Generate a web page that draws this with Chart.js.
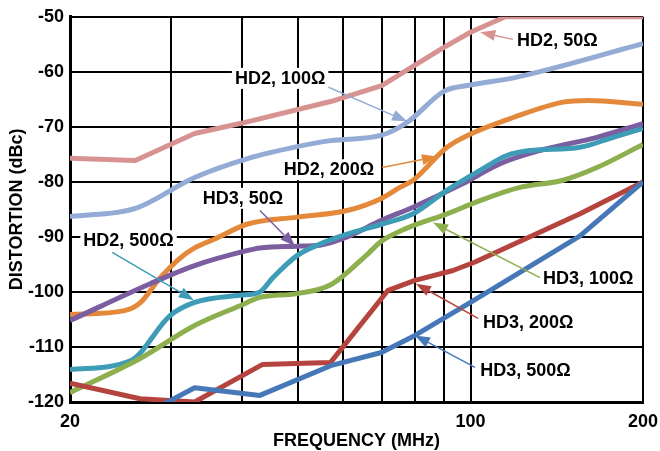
<!DOCTYPE html>
<html>
<head>
<meta charset="utf-8">
<script src="https://cdn.jsdelivr.net/npm/chart.js@4.4.1/dist/chart.umd.min.js"></script>
<style>
    html, body { margin: 0; padding: 0; background: #fff; }
    #wrap { width: 660px; height: 451px; }
</style>
</head>
<body>
<div id="wrap"><canvas id="myChart"></canvas></div>
<script>
// tick values / labels
const freqTicks = [20, 30, 40, 50, 60, 70, 80, 90, 100, 200];
const freqLabels = ['20', '', '', '', '', '', '', '', '100', '200'];
const dbcMin = -120;
const dbcMax = -50;

// HD2, 50 ohm
const hd2_50_freq = [20, 26, 33, 39.6, 57, 70, 80, 90, 100, 115, 200];
const hd2_50_dbc  = [-75.7, -76.1, -71.2, -69.4, -65.4, -62.5, -58.8, -55.5, -52.8, -50, -50];
// HD2, 100 ohm
const hd2_100_freq = [20, 26, 33, 40.7, 49.8, 57, 70, 77.5, 90, 100, 120, 200];
const hd2_100_dbc  = [-86.3, -84.8, -79.2, -75.8, -73.6, -72.5, -71.5, -69.2, -63.5, -62.4, -61, -54.9];
// HD2, 200 ohm
const hd2_200_freq = [20, 24.9, 26.5, 28.7, 31.1, 33, 36.1, 40.7, 49.8, 60.9, 69.9, 75.3, 79.4, 91, 100, 118.7, 145, 160, 200];
const hd2_200_dbc  = [-104.1, -103.4, -102, -97.5, -93.9, -92, -90.2, -87.7, -86.4, -85.2, -83, -81, -79.7, -73.7, -71.3, -68.3, -65.5, -65.2, -65.9];
// HD2, 500 ohm
const hd2_500_freq = [20, 25.5, 29.9, 33, 39.6, 42.9, 45.2, 49.8, 54.6, 60.9, 69.9, 79.4, 91, 103.9, 115.7, 127, 155.3, 177.4, 200];
const hd2_500_dbc  = [-114.1, -112.5, -104.3, -101.9, -100.6, -100, -97.4, -93.4, -91.3, -89.5, -87.7, -85.8, -81.5, -77.9, -75.2, -74.3, -73.7, -71.9, -70.3];
// HD3, 50 ohm
const hd3_50_freq = [20, 27.6, 33, 40.7, 42.9, 49.8, 54.6, 60.9, 69.9, 79.4, 97, 112.6, 132.2, 166.2, 200];
const hd3_50_dbc  = [-105.2, -98.5, -95.2, -92.5, -92, -91.7, -91.5, -90, -87, -84.6, -80.3, -76.7, -74.3, -71.9, -69.4];
// HD3, 100 ohm
const hd3_100_freq = [20, 26.5, 33, 39.6, 42.9, 49.8, 57, 66, 69.9, 77.5, 91, 103.9, 122, 145, 166.2, 200];
const hd3_100_dbc  = [-118.3, -112.1, -106.1, -102.5, -101, -100.3, -98.7, -93.2, -90.8, -88.4, -85.8, -83.4, -81, -79.7, -77.4, -73.2];
// HD3, 200 ohm
const hd3_200_freq = [20, 26.5, 33, 43.3, 57, 71.8, 80, 93.2, 101.6, 155.3, 200];
const hd3_200_dbc  = [-116.6, -119.4, -120, -113.2, -112.8, -99.7, -97.9, -96.1, -94.6, -85.8, -80];
// HD3, 500 ohm
const hd3_500_freq = [28.9, 33, 42.9, 57, 69.9, 80, 100, 155.3, 200];
const hd3_500_dbc  = [-120.6, -117.4, -118.8, -113.4, -111, -107.9, -101.9, -89.8, -80];

const FONT = 'Liberation Sans, Arial, sans-serif';

function pts(f, v) {
    return f.map((x, i) => ({x: x, y: v[i]}));
}

function series(f, v, color, smooth) {
    return {
        data: pts(f, v),
        borderColor: color,
        borderWidth: 5,
        pointRadius: 0,
        fill: false,
        tension: smooth ? 0.4 : 0,
        cubicInterpolationMode: smooth ? 'monotone' : 'default',
        borderJoinStyle: 'round',
        borderCapStyle: 'butt'
    };
}

// callouts: text anchor (left, middle), arrow start, arrow tip - all in data units
const notes = [
    {text: 'HD2, 50Ω',  color: '#d69391', at: [120.6, -54.2],  from: [118.6, -54.1],  to: [104.0, -52.8]},
    {text: 'HD2, 100Ω', color: '#93abd5', at: [38.8, -61.1],   from: [55.1, -62.3],   to: [77.5, -69.0]},
    {text: 'HD2, 200Ω', color: '#e4893a', at: [47.2, -77.7],   from: [70.1, -77.4],   to: [87.4, -75.4]},
    {text: 'HD3, 50Ω',  color: '#7b5ea0', at: [34.1, -82.9],   from: [42.9, -85.2],   to: [49.4, -91.7]},
    {text: 'HD2, 500Ω', color: '#3e9cb6', at: [21.1, -90.6],   from: [23.7, -92.8],   to: [32.9, -101.5]},
    {text: 'HD3, 100Ω', color: '#8eaf4e', at: [133.8, -97.5],  from: [132.2, -97.4],  to: [86.0, -87.4]},
    {text: 'HD3, 200Ω', color: '#b5443f', at: [105.1, -105.5], from: [103.1, -104.8], to: [80.3, -98.5]},
    {text: 'HD3, 500Ω', color: '#4678b8', at: [104.0, -114.1], from: [101.8, -113.7], to: [80.0, -107.9]}
];

const calloutPlugin = {
    id: 'callouts',
    afterDatasetsDraw(chart) {
        const c = chart.ctx;
        const xs = chart.scales.x;
        const ys = chart.scales.y;
        c.save();
        c.font = 'bold 18px ' + FONT;
        c.textBaseline = 'middle';
        c.textAlign = 'left';
        notes.forEach(n => {
            const x1 = xs.getPixelForValue(n.from[0]);
            const y1 = ys.getPixelForValue(n.from[1]);
            const x2 = xs.getPixelForValue(n.to[0]);
            const y2 = ys.getPixelForValue(n.to[1]);
            const ang = Math.atan2(y2 - y1, x2 - x1);
            const len = 15, half = 5.5;
            const bx = x2 - len * Math.cos(ang);
            const by = y2 - len * Math.sin(ang);

            c.strokeStyle = n.color;
            c.fillStyle = n.color;
            c.lineWidth = 1.5;
            c.beginPath();
            c.moveTo(x1, y1);
            c.lineTo(bx, by);
            c.stroke();

            c.beginPath();
            c.moveTo(x2, y2);
            c.lineTo(bx + half * Math.sin(ang), by - half * Math.cos(ang));
            c.lineTo(bx - half * Math.sin(ang), by + half * Math.cos(ang));
            c.closePath();
            c.fill();

            const tx = xs.getPixelForValue(n.at[0]);
            const ty = ys.getPixelForValue(n.at[1]);
            const w = c.measureText(n.text).width;
            c.fillStyle = '#fff';
            c.fillRect(tx - 3, ty - 10, w + 6, 21);
            c.fillStyle = '#000';
            c.fillText(n.text, tx, ty + 1);
        });
        c.restore();
    }
};

const ctx = document.getElementById('myChart').getContext('2d');

new Chart(ctx, {
    type: 'line',
    data: {
        datasets: [
            series(hd3_500_freq, hd3_500_dbc, '#4678b8', false),
            series(hd3_200_freq, hd3_200_dbc, '#b5443f', false),
            series(hd3_100_freq, hd3_100_dbc, '#8eaf4e', true),
            series(hd2_500_freq, hd2_500_dbc, '#3e9cb6', true),
            series(hd3_50_freq, hd3_50_dbc, '#7b5ea0', true),
            series(hd2_200_freq, hd2_200_dbc, '#e4893a', true),
            series(hd2_100_freq, hd2_100_dbc, '#93abd5', true),
            series(hd2_50_freq, hd2_50_dbc, '#d69391', false)
        ]
    },
    options: {
        responsive: true,
        maintainAspectRatio: false,
        animation: false,
        layout: {padding: {top: 16, right: 17, left: 0, bottom: 0}},
        plugins: {legend: {display: false}, tooltip: {enabled: false}},
        scales: {
            x: {
                type: 'logarithmic',
                min: 20,
                max: 200,
                afterBuildTicks: s => { s.ticks = freqTicks.map(v => ({value: v})); },
                afterFit: s => {
                    s.height = 49;
                    s.paddingLeft = 0;
                    s.paddingRight = 17;
                },
                ticks: {
                    autoSkip: false,
                    maxRotation: 0,
                    padding: 9,
                    color: '#000',
                    font: {family: FONT, weight: 'bold', size: 18},
                    callback: (v, i) => freqLabels[i]
                },
                grid: {color: '#000', lineWidth: 2, drawTicks: false},
                border: {color: '#000', width: 3},
                title: {
                    display: true,
                    text: 'FREQUENCY (MHz)',
                    color: '#000',
                    font: {family: FONT, weight: 'bold', size: 18, lineHeight: 1.1},
                    padding: 0
                }
            },
            y: {
                min: dbcMin,
                max: dbcMax,
                afterFit: s => { s.width = 70; },
                ticks: {
                    stepSize: 10,
                    padding: 6,
                    color: '#000',
                    font: {family: FONT, weight: 'bold', size: 18}
                },
                grid: {color: '#000', lineWidth: 2, drawTicks: false},
                border: {color: '#000', width: 3},
                title: {
                    display: true,
                    text: 'DISTORTION (dBc)',
                    color: '#000',
                    font: {family: FONT, weight: 'bold', size: 18},
                    padding: {top: 6, bottom: 0}
                }
            }
        }
    },
    plugins: [calloutPlugin]
});
</script>
</body>
</html>
